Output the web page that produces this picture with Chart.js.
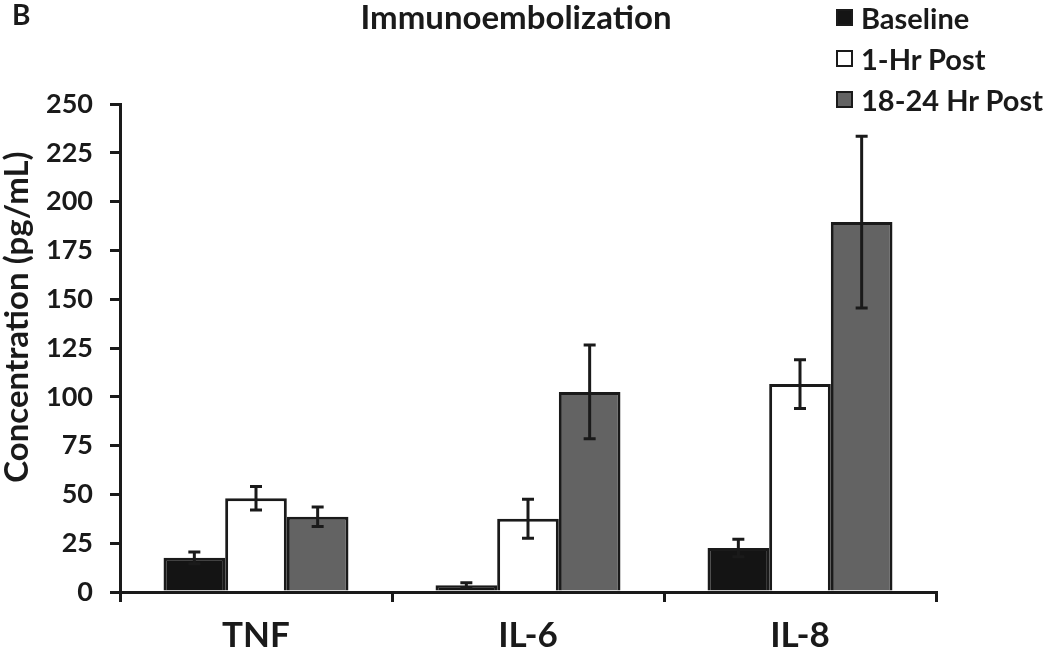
<!DOCTYPE html>
<html lang="en">
<head>
    <meta charset="UTF-8">
    <title>Immunoembolization</title>
    <script src="https://cdn.jsdelivr.net/npm/chart.js"></script>
    <style>
        body { margin: 0; background: #fff; font-family: Lato, sans-serif; }
        #wrap { position: relative; width: 1050px; height: 652px; overflow: hidden; }
        #panel { position: absolute; left: 12px; top: 0px; font-size: 28px; line-height: 1; font-weight: bold; color: #1a1a1a; }
        #title { position: absolute; left: 316px; width: 400px; top: 0px; text-align: center; font-size: 33px; line-height: 1; font-weight: bold; color: #1a1a1a; }
        #ytitle { position: absolute; left: -185px; width: 400px; top: 300px; text-align: center; font-size: 33px; line-height: 34px; font-weight: bold; color: #1a1a1a; transform: rotate(-90deg); }
        #legend { position: absolute; left: 836px; top: -3px; }
        .item { display: flex; align-items: center; height: 41px; font-size: 29px; font-weight: bold; color: #1a1a1a; white-space: nowrap; }
        .box { box-sizing: border-box; width: 17px; height: 17px; border: 2px solid #1a1a1a; margin-right: 8px; }
    </style>
</head>
<body>
    <div id="wrap">
        <canvas id="chart" width="1050" height="652"></canvas>
        <div id="panel">B</div>
        <div id="title">Immunoembolization</div>
        <div id="ytitle">Concentration (pg/mL)</div>
        <div id="legend"></div>
    </div>

    <script>
        const categories = ["TNF", "IL-6", "IL-8"];
        const seriesNames = ["Baseline", "1-Hr Post", "18-24 Hr Post"];
        const baseline = [17.5, 3.5, 22.5];
        const oneHr = [48, 37.5, 106.5];
        const lateHr = [38.5, 102.5, 189.5];
        const baselineErr = [3, 1.2, 4.5];
        const oneHrErr = [6, 10, 12.5];
        const lateHrErr = [5, 24, 44];
        const yTicks = [0, 25, 50, 75, 100, 125, 150, 175, 200, 225, 250];

        const fills = ['#141414', '#ffffff', '#636363'];
        const ink = '#1a1a1a';

        // legend as html
        seriesNames.forEach((name, i) => {
            document.getElementById('legend').insertAdjacentHTML('beforeend',
                `<div class="item"><span class="box" style="background:${fills[i]}"></span>${name}</div>`);
        });

        // draws the +/- error bars on top of each bar
        const errorBars = {
            id: 'errorBars',
            afterDatasetsDraw(chart) {
                const ctx = chart.ctx;
                const y = chart.scales.y;
                ctx.save();
                ctx.strokeStyle = ink;
                ctx.lineWidth = 3;
                chart.data.datasets.forEach((ds, di) => {
                    chart.getDatasetMeta(di).data.forEach((bar, i) => {
                        const v = ds.data[i], e = ds.errors[i];
                        const top = y.getPixelForValue(v + e);
                        const bot = y.getPixelForValue(v - e);
                        ctx.beginPath();
                        ctx.moveTo(bar.x, top); ctx.lineTo(bar.x, bot);
                        ctx.moveTo(bar.x - 6, top); ctx.lineTo(bar.x + 6, top);
                        ctx.moveTo(bar.x - 6, bot); ctx.lineTo(bar.x + 6, bot);
                        ctx.stroke();
                    });
                });
                ctx.restore();
            }
        };

        new Chart(document.getElementById('chart'), {
            type: 'bar',
            data: {
                labels: categories,
                datasets: [
                    { label: seriesNames[0], data: baseline, errors: baselineErr, backgroundColor: fills[0] },
                    { label: seriesNames[1], data: oneHr, errors: oneHrErr, backgroundColor: fills[1] },
                    { label: seriesNames[2], data: lateHr, errors: lateHrErr, backgroundColor: fills[2] }
                ].map(d => Object.assign(d, { borderColor: ink, borderWidth: 3, categoryPercentage: 0.68, barPercentage: 1 }))
            },
            options: {
                responsive: false,
                animation: false,
                layout: { padding: { top: 104, right: 114 } },
                plugins: {
                    legend: { display: false },
                    tooltip: { enabled: false }
                },
                scales: {
                    x: {
                        grid: { drawOnChartArea: false, color: ink, lineWidth: 3, tickLength: 10, offset: true },
                        border: { color: ink, width: 3 },
                        ticks: { color: ink, padding: 13, font: { family: 'Lato', size: 35, weight: 'bold' } },
                        afterFit: s => { s.height = 60; }
                    },
                    y: {
                        min: 0,
                        max: 250,
                        afterBuildTicks: s => { s.ticks = yTicks.map(v => ({ value: v })); },
                        grid: { drawOnChartArea: false, color: ink, lineWidth: 3, tickLength: 10 },
                        border: { color: ink, width: 3 },
                        ticks: { color: ink, padding: 17, font: { family: 'Lato', size: 27, weight: 'bold' } },
                        afterFit: s => { s.width = 120; }
                    }
                }
            },
            plugins: [errorBars]
        });
    </script>
</body>
</html>
